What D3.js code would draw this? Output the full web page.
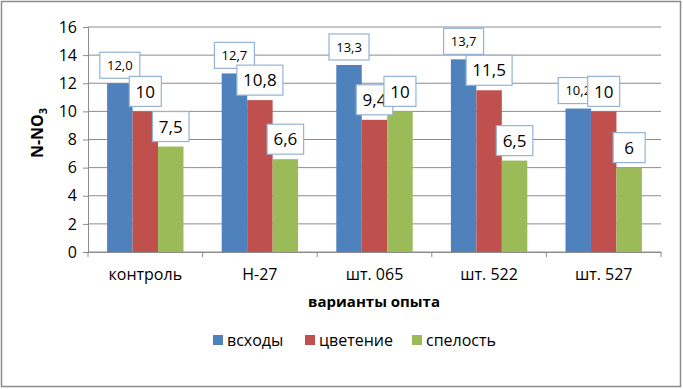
<!DOCTYPE html>
<html>
<head>
<meta charset="utf-8">
<script src="https://cdn.jsdelivr.net/npm/d3@7"></script>
<style>
  body { margin: 0; background: #fff; }
  svg text { font-family: "Open Sans", "Liberation Sans", sans-serif; fill: #000; }
  .label { font-weight: bold; font-size: 15px; }
</style>
</head>
<body>
<svg id="chart" width="683" height="389"></svg>
<script>
const categories = ["контроль", "Н-27", "шт. 065", "шт. 522", "шт. 527"]
const seriesNames = ["всходы", "цветение", "спелость"]
const vskhody = [12.0, 12.7, 13.3, 13.7, 10.2]
const tsvetenie = [10, 10.8, 9.4, 11.5, 10]
const spelost = [7.5, 6.6, 10, 6.5, 6]
const labels = [
    ["12,0", "12,7", "13,3", "13,7", "10,2"],
    ["10", "10,8", "9,4", "11,5", "10"],
    ["7,5", "6,6", "10", "6,5", "6"]
]
const yTicks = [0, 2, 4, 6, 8, 10, 12, 14, 16]
const colors = ["#4F81BD", "#C0504D", "#9BBB59"]

const series = [vskhody, tsvetenie, spelost]
let svg = d3.select("#chart")

// outer frame
svg.append("rect").attr("x", 1.5).attr("y", 1.5).attr("width", 679).attr("height", 385)
    .attr("fill", "#fff").attr("stroke", "#8c8c8c").attr("stroke-width", 1.5)

let xScale = d3.scaleBand().domain(categories).range([88, 661]).paddingInner(0).paddingOuter(0)
let inner = d3.scaleBand().domain([0, 1, 2]).range([0, xScale.bandwidth()]).paddingOuter(0.75).paddingInner(0)
let yScale = d3.scaleLinear().domain([0, 16]).range([252, 27])

// gridlines
svg.append("g").selectAll("line").data(yTicks).enter().append("line")
    .attr("x1", 88).attr("x2", 661)
    .attr("y1", d => yScale(d)).attr("y2", d => yScale(d))
    .attr("stroke", "#8c8c8c").attr("stroke-width", 1)

// bars
series.forEach(function (vals, s) {
    svg.append("g").selectAll("rect").data(vals).enter().append("rect")
        .attr("x", (d, i) => xScale(categories[i]) + inner(s))
        .attr("width", inner.bandwidth())
        .attr("y", d => yScale(d))
        .attr("height", d => yScale(0) - yScale(d))
        .attr("fill", colors[s])
})

// y axis
let y_axis = d3.axisLeft(yScale).tickValues(yTicks).tickSize(5).tickPadding(6)
let gy = svg.append("g").attr("class", "axis").attr("transform", "translate(88,0)").call(y_axis)
gy.selectAll("path, line").attr("stroke", "#8c8c8c")
gy.selectAll("text").style("font-size", "16px")

// x axis
let x_axis = d3.axisBottom(xScale).tickSize(0).tickPadding(17)
let gx = svg.append("g").attr("class", "axis").attr("transform", "translate(0,252)").call(x_axis)
gx.select(".domain").attr("stroke", "#8c8c8c")
gx.selectAll("text").style("font-size", "16px")
gx.selectAll(".sep").data(d3.range(categories.length + 1)).enter().append("line")
    .attr("x1", i => 88 + i * xScale.bandwidth()).attr("x2", i => 88 + i * xScale.bandwidth())
    .attr("y1", 0).attr("y2", 5).attr("stroke", "#8c8c8c")

// data labels
series.forEach(function (vals, s) {
    let small = s === 0
    let bw = small ? 36 : 32, bh = small ? 26 : 30
    let g = svg.append("g").selectAll("g").data(vals).enter().append("g")
        .attr("transform", (d, i) => {
            let cx = xScale(categories[i]) + inner(s) + inner.bandwidth() / 2
            return `translate(${cx},${yScale(d) - 5 - bh / 2})`
        })
    g.append("rect")
        .attr("x", (d, i) => -Math.max(bw, labels[s][i].length * (small ? 8 : 9.5) + 8) / 2)
        .attr("width", (d, i) => Math.max(bw, labels[s][i].length * (small ? 8 : 9.5) + 8))
        .attr("y", -bh / 2).attr("height", bh)
        .attr("fill", "#fff").attr("stroke", "#95B3D7").attr("stroke-width", 1.2)
    g.append("text")
        .attr("text-anchor", "middle").attr("dy", "0.36em")
        .style("font-size", small ? "13px" : "17px")
        .text((d, i) => labels[s][i])
})

// axis titles
svg.append("g").attr("transform", "translate(37,133) rotate(270)")
    .append("text").attr("class", "label").attr("text-anchor", "middle").attr("dy", "0.35em")
    .style("font-size", "16px")
    .html('N-NO<tspan dy="4" font-size="11px">3</tspan>')

svg.append("text").attr("class", "label").attr("x", 374).attr("y", 302)
    .attr("text-anchor", "middle").attr("dy", "0.35em").text("варианты опыта")

// legend
let legendX = [213, 305, 412]
let legend = svg.append("g").selectAll("g").data(seriesNames).enter().append("g")
    .attr("transform", (d, i) => `translate(${legendX[i]},340)`)
legend.append("rect").attr("x", 0).attr("y", -5).attr("width", 10).attr("height", 10)
    .attr("fill", (d, i) => colors[i])
legend.append("text").attr("x", 14).attr("dy", "0.35em").style("font-size", "16px").text(d => d)
</script>
</body>
</html>
